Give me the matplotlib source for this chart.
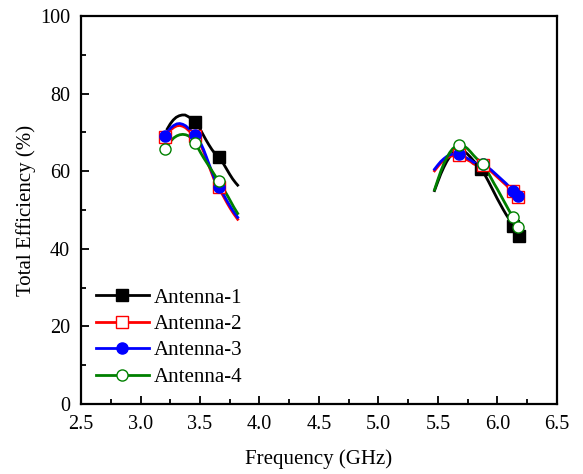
import matplotlib
matplotlib.use("Agg")
import matplotlib.pyplot as plt
from matplotlib.lines import Line2D
from matplotlib.ticker import MultipleLocator, FormatStrFormatter

plt.rcParams['font.family'] = ['Liberation Serif', 'DejaVu Serif']

labels = ["Antenna-1", "Antenna-2", "Antenna-3", "Antenna-4"]
colors = ["black", "red", "blue", "green"]

# Curves (low band / high band)
a1_low_x = [3.225, 3.25, 3.275, 3.30, 3.325, 3.35, 3.375, 3.40, 3.425, 3.45, 3.475, 3.50,
            3.525, 3.55, 3.575, 3.60, 3.625, 3.65, 3.675, 3.70, 3.725, 3.75, 3.775, 3.80, 3.817]
a1_low_y = [70.9, 72.2, 73.2, 73.9, 74.3, 74.5, 74.5, 74.1, 73.6, 73.0, 72.1, 70.9,
            69.5, 68.1, 66.8, 65.6, 64.6, 63.8, 63.0, 61.8, 60.5, 59.2, 58.0, 57.0, 56.4]
a1_high_x = [5.472, 5.50, 5.525, 5.55, 5.575, 5.60, 5.625, 5.65, 5.675, 5.70, 5.725, 5.75,
             5.775, 5.80, 5.825, 5.85, 5.875, 5.90, 5.925, 5.95, 5.975, 6.00, 6.025, 6.05,
             6.075, 6.10, 6.13, 6.155, 6.181]
a1_high_y = [55.0, 57.3, 59.3, 61.0, 62.5, 63.7, 64.7, 65.4, 65.7, 65.6, 65.1, 64.4,
             63.6, 62.7, 61.9, 61.0, 60.0, 58.8, 57.4, 55.9, 54.4, 52.9, 51.5, 50.1,
             48.8, 47.6, 46.0, 44.6, 43.2]

a2_low_x = [3.206, 3.23, 3.255, 3.28, 3.305, 3.33, 3.355, 3.38, 3.405, 3.43, 3.455, 3.48,
            3.505, 3.53, 3.555, 3.58, 3.605, 3.63, 3.655, 3.68, 3.705, 3.73, 3.755, 3.78, 3.817]
a2_low_y = [68.7, 69.8, 70.7, 71.3, 71.7, 71.8, 71.6, 71.2, 70.5, 69.8, 69.1, 68.1,
            66.8, 65.1, 63.1, 61.0, 59.0, 57.0, 55.7, 54.5, 53.1, 51.7, 50.4, 49.2, 47.6]
a2_high_x = [5.472, 5.50, 5.525, 5.55, 5.575, 5.60, 5.625, 5.65, 5.674, 5.70, 5.725, 5.75,
             5.775, 5.80, 5.825, 5.85, 5.878, 5.90, 5.925, 5.95, 5.975, 6.00, 6.025, 6.05,
             6.075, 6.10, 6.13, 6.155, 6.178]
a2_high_y = [60.1, 61.2, 62.1, 62.8, 63.4, 63.8, 64.0, 64.1, 64.0, 63.7, 63.3, 62.9,
             62.5, 61.9, 61.6, 61.6, 61.5, 61.1, 60.5, 59.9, 59.2, 58.5, 57.8, 57.1,
             56.4, 55.6, 54.6, 53.9, 53.2]

a3_low_x = [3.206, 3.23, 3.255, 3.28, 3.305, 3.33, 3.355, 3.38, 3.405, 3.43, 3.455, 3.48,
            3.505, 3.53, 3.555, 3.58, 3.605, 3.63, 3.655, 3.68, 3.705, 3.73, 3.755, 3.78, 3.817]
a3_low_y = [69.2, 70.3, 71.2, 71.8, 72.2, 72.3, 72.1, 71.7, 71.0, 70.3, 69.6, 68.6,
            67.3, 65.6, 63.6, 61.5, 59.5, 57.5, 56.2, 55.0, 53.6, 52.2, 50.9, 49.7, 48.1]
a3_high_x = [5.472, 5.50, 5.525, 5.55, 5.575, 5.60, 5.625, 5.65, 5.674, 5.70, 5.725, 5.75,
             5.775, 5.80, 5.825, 5.85, 5.878, 5.90, 5.925, 5.95, 5.975, 6.00, 6.025, 6.05,
             6.075, 6.10, 6.13, 6.155, 6.178]
a3_high_y = [60.5, 61.6, 62.5, 63.2, 63.8, 64.2, 64.4, 64.5, 64.4, 64.1, 63.7, 63.3,
             62.9, 62.3, 62.0, 62.0, 61.9, 61.5, 60.9, 60.3, 59.6, 58.9, 58.2, 57.5,
             56.8, 56.0, 55.0, 54.3, 53.6]

a4_low_x = [3.206, 3.23, 3.255, 3.28, 3.305, 3.33, 3.355, 3.38, 3.405, 3.43, 3.458, 3.48,
            3.505, 3.53, 3.555, 3.58, 3.605, 3.63, 3.66, 3.685, 3.71, 3.735, 3.76, 3.785, 3.817]
a4_low_y = [65.6, 66.8, 67.8, 68.6, 69.1, 69.4, 69.5, 69.4, 69.1, 68.4, 67.3, 66.2,
            64.8, 63.5, 62.3, 61.1, 59.9, 58.7, 57.5, 56.2, 54.8, 53.5, 52.1, 50.7, 49.1]
a4_high_x = [5.472, 5.50, 5.525, 5.55, 5.575, 5.60, 5.625, 5.65, 5.675, 5.70, 5.725, 5.75,
             5.775, 5.80, 5.825, 5.85, 5.878, 5.90, 5.925, 5.95, 5.975, 6.00, 6.025, 6.05,
             6.075, 6.10, 6.13, 6.155, 6.178]
a4_high_y = [55.2, 57.8, 60.0, 61.9, 63.5, 64.8, 65.8, 66.4, 66.8, 66.8, 66.4, 65.8,
             65.0, 64.1, 63.3, 62.6, 61.9, 60.8, 59.5, 58.1, 56.7, 55.4, 54.0, 52.6,
             51.2, 49.8, 48.3, 47.0, 45.7]

# Marker points
a1_mk_x = [3.458, 3.662, 5.864, 6.130, 6.181]
a1_mk_y = [72.8, 63.6, 60.5, 45.9, 43.2]
a2_mk_x = [3.206, 3.458, 3.662, 5.674, 5.878, 6.130, 6.178]
a2_mk_y = [68.8, 69.1, 55.8, 64.1, 61.6, 54.8, 53.4]
a3_mk_x = [3.206, 3.458, 3.662, 5.674, 5.878, 6.130, 6.178]
a3_mk_y = [69.2, 69.4, 55.9, 64.4, 61.9, 55.0, 53.6]
a4_mk_x = [3.206, 3.458, 3.660, 5.674, 5.878, 6.130, 6.178]
a4_mk_y = [65.6, 67.3, 57.5, 66.8, 61.9, 48.3, 45.7]

series = [
    (a1_low_x, a1_low_y, a1_high_x, a1_high_y, a1_mk_x, a1_mk_y, 's', 'black'),
    (a2_low_x, a2_low_y, a2_high_x, a2_high_y, a2_mk_x, a2_mk_y, 's', 'white'),
    (a3_low_x, a3_low_y, a3_high_x, a3_high_y, a3_mk_x, a3_mk_y, 'o', 'blue'),
    (a4_low_x, a4_low_y, a4_high_x, a4_high_y, a4_mk_x, a4_mk_y, 'o', 'white'),
]

fig = plt.figure(figsize=(5.83, 4.74), dpi=100)
ax = fig.add_axes([0.139, 0.148, 0.816, 0.818])

lw = 2.0
ms = 8
handles = []
for (lx, ly, hx, hy, mx, my, mk, fc), c, lab in zip(series, colors, labels):
    ax.plot(lx, ly, color=c, lw=lw, zorder=2)
    ax.plot(hx, hy, color=c, lw=lw, zorder=2)
    ax.plot(mx, my, linestyle='none', marker=mk, markersize=ms,
            markerfacecolor=fc, markeredgecolor=c, markeredgewidth=1.0, zorder=3)
    handles.append(Line2D([], [], color=c, lw=lw, marker=mk, markersize=ms,
                          markerfacecolor=fc, markeredgecolor=c, markeredgewidth=1.0))

ax.set_xlim(2.5, 6.5)
ax.set_ylim(0, 100)
ax.xaxis.set_major_locator(MultipleLocator(0.5))
ax.xaxis.set_minor_locator(MultipleLocator(0.25))
ax.yaxis.set_major_locator(MultipleLocator(20))
ax.yaxis.set_minor_locator(MultipleLocator(10))
ax.xaxis.set_major_formatter(FormatStrFormatter('%.1f'))
ax.tick_params(which='both', direction='in', top=False, right=False,
               labelsize=14.5, width=1.3, pad=8)
ax.tick_params(which='major', length=6)
ax.tick_params(which='minor', length=3.5)
for s in ax.spines.values():
    s.set_linewidth(1.6)

ax.set_xlabel("Frequency (GHz)", fontsize=15, labelpad=11)
ax.set_ylabel("Total Efficiency (%)", fontsize=15, labelpad=3)

ax.legend(handles, labels, loc='lower left', bbox_to_anchor=(0.0, 0.006),
          frameon=False, fontsize=15, handlelength=2.55, handletextpad=0.25,
          labelspacing=0.33, borderaxespad=0.3)

fig.savefig("out.png", dpi=100)
